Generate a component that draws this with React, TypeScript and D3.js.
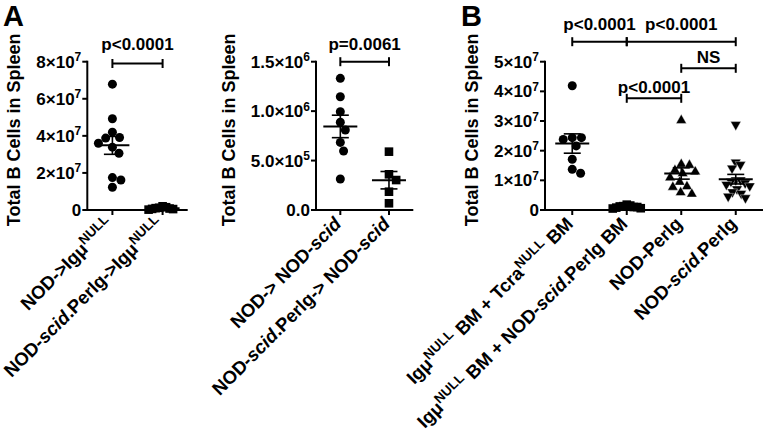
import React from "react";
import * as d3 from "d3";

const FONT = "Arial, 'Liberation Sans', Helvetica, sans-serif";

// ---------- Panel A (left) ----------
const a1Categories = ["NOD->Igμ^NULL", "NOD-_scid_.Perlg->Igμ^NULL"];
const a1Ticks = [0, 2e7, 4e7, 6e7, 8e7];
const a1TickLabels = ["0", "2×10^7", "4×10^7", "6×10^7", "8×10^7"];
const a1NodValues = [6.79e7, 4.92e7, 4.2e7, 3.88e7, 3.91e7, 3.6e7, 3.39e7, 3.06e7, 1.75e7, 1.62e7, 1.23e7];
const a1PerlgValues = [0.02e7, 0.05e7, 0.08e7, 0.1e7, 0.12e7, 0.15e7, 0.2e7, 0.06e7];
const a1Brackets = [{ from: 0, to: 1, label: "p<0.0001" }];

// ---------- Panel A (right) ----------
const a2Categories = ["NOD-> NOD-_scid_", "NOD-_scid_.Perlg-> NOD-_scid_"];
const a2Ticks = [0, 5e5, 1e6, 1.5e6];
const a2TickLabels = ["0.0", "5.0×10^5", "1.0×10^6", "1.5×10^6"];
const a2NodValues = [1.332e6, 1.146e6, 0.994e6, 0.887e6, 0.809e6, 0.684e6, 0.597e6, 0.313e6];
const a2PerlgValues = [0.59e6, 0.361e6, 0.303e6, 0.185e6, 0.068e6];
const a2Brackets = [{ from: 0, to: 1, label: "p=0.0061" }];

// ---------- Panel B ----------
const bCategories = [
  "Igμ^NULL BM + Tcra^NULL BM",
  "Igμ^NULL BM + NOD-_scid_.Perlg BM",
  "NOD-Perlg",
  "NOD-_scid_.Perlg",
];
const bTicks = [0, 1e7, 2e7, 3e7, 4e7, 5e7];
const bTickLabels = ["0", "1×10^7", "2×10^7", "3×10^7", "4×10^7", "5×10^7"];
const bTcraValues = [4.19e7, 2.44e7, 2.38e7, 2.44e7, 2.16e7, 1.71e7, 1.37e7, 1.24e7];
const bScidPerlgBmValues = [0.05e7, 0.08e7, 0.1e7, 0.12e7, 0.15e7, 0.18e7, 0.1e7, 0.06e7, 0.13e7];
const bNodPerlgValues = [3.03e7, 1.55e7, 1.52e7, 1.35e7, 1.3e7, 1.24e7, 1.1e7, 0.95e7, 0.8e7, 0.78e7, 0.55e7, 0.6e7];
const bNodScidPerlgValues = [2.87e7, 1.6e7, 1.52e7, 1.4e7, 1.0e7, 1.0e7, 0.95e7, 0.9e7, 0.85e7, 0.8e7, 0.7e7, 0.6e7, 0.55e7, 0.45e7, 0.4e7];
const bBrackets = [
  { from: 0, to: 1, label: "p<0.0001" },
  { from: 1, to: 3, label: "p<0.0001" },
  { from: 2, to: 3, label: "NS" },
  { from: 1, to: 2, label: "p<0.0001" },
];

const yTitle = "Total B Cells in Spleen";

type Seg = { t: string; sup?: boolean; it?: boolean };

function parseRich(s: string): Seg[] {
  const parts = s.split(/(\^[A-Za-z0-9]+|_[^_]+_)/).filter((p) => p.length > 0);
  return parts.map((p) => {
    if (p.startsWith("^")) return { t: p.slice(1), sup: true };
    if (p.startsWith("_") && p.endsWith("_")) return { t: p.slice(1, -1), it: true };
    return { t: p };
  });
}

function RichText({ segs, supSize, supShift }: { segs: Seg[]; supSize: number; supShift: number }) {
  const out: React.ReactNode[] = [];
  let raised = false;
  segs.forEach((s, i) => {
    let dy = 0;
    if (s.sup && !raised) { dy = -supShift; raised = true; }
    else if (!s.sup && raised) { dy = supShift; raised = false; }
    out.push(
      <tspan key={i} dy={dy || undefined} fontSize={s.sup ? supSize : undefined} fontStyle={s.it ? "italic" : undefined}>
        {s.t}
      </tspan>
    );
  });
  return <>{out}</>;
}

function swarm(values: number[], y: (v: number) => number, D: number, maxHalf: number): number[] {
  const order = values.map((v, i) => i).sort((a, b) => values[b] - values[a]);
  const placed: { x: number; y: number }[] = [];
  const xs = new Array(values.length).fill(0);
  for (const i of order) {
    const yi = y(values[i]);
    const cands = [0];
    for (const p of placed) {
      const dy = Math.abs(p.y - yi);
      if (dy < D) {
        const d = Math.sqrt(D * D - dy * dy);
        cands.push(p.x + d, p.x - d);
      }
    }
    cands.sort((a, b) => Math.abs(a) - Math.abs(b) || b - a);
    let chosen = 0;
    for (const c of cands) {
      const ok = placed.every((p) => (p.x - c) ** 2 + (p.y - yi) ** 2 >= D * D - 0.01);
      if (ok) { chosen = c; break; }
    }
    xs[i] = chosen;
    placed.push({ x: chosen, y: yi });
  }
  const m = d3.max(xs, (v: number) => Math.abs(v)) || 0;
  if (m > maxHalf) return xs.map((v) => (v * maxHalf) / m);
  return xs;
}

type Shape = "circle" | "square" | "tri" | "itri";

function Marker({ shape, x, y }: { shape: Shape; x: number; y: number }) {
  if (shape === "circle") return <circle cx={x} cy={y} r={4.5} fill="#000" />;
  if (shape === "square") return <rect x={x - 4.3} y={y - 4.3} width={8.6} height={8.6} fill="#000" />;
  if (shape === "tri")
    return <path d={`M${x},${y - 5.8}L${x + 5.2},${y + 3.3}L${x - 5.2},${y + 3.3}Z`} fill="#000" stroke="#fff" strokeWidth={0.4} />;
  return <path d={`M${x},${y + 5.8}L${x + 5.2},${y - 3.3}L${x - 5.2},${y - 3.3}Z`} fill="#000" stroke="#fff" strokeWidth={0.4} />;
}

type Bracket = { from: number; to: number; label: string };

type PanelProps = {
  x0: number;
  x1: number;
  yMax: number;
  ticks: number[];
  tickLabels: string[];
  categories: string[];
  groups: number[][];
  shapes: Shape[];
  brackets: Bracket[];
  bracketY: number[];
  bracketGap: number[];
  titleX: number;
  letter?: string;
  letterX?: number;
};

const Y0 = 210;
const YTOP = 61.7;

function Panel(p: PanelProps) {
  const y = d3.scaleLinear().domain([0, p.yMax]).range([Y0, YTOP]);
  const x = d3.scalePoint<number>().domain(p.categories.map((_, i) => i)).range([p.x0, p.x1]).padding(0.5);
  return (
    <g>
      {p.letter && (
        <text x={p.letterX} y={25.5} fontSize={29} fontWeight="bold" fontFamily={FONT}>{p.letter}</text>
      )}
      <text
        transform={`translate(${p.titleX},${(Y0 + YTOP) / 2 - 6}) rotate(-90)`}
        textAnchor="middle"
        fontSize={18}
        fontWeight="bold"
        fontFamily={FONT}
      >
        {yTitle}
      </text>
      {/* axes */}
      <line x1={p.x0} x2={p.x0} y1={YTOP - 1} y2={Y0 + 1} stroke="#000" strokeWidth={2} />
      <line x1={p.x0 - 1} x2={p.x1} y1={Y0} y2={Y0} stroke="#000" strokeWidth={2} />
      {p.ticks.map((t, i) => (
        <g key={i}>
          <line x1={p.x0 - 5} x2={p.x0} y1={y(t)} y2={y(t)} stroke="#000" strokeWidth={2} />
          <text x={p.x0 - 6} y={y(t) + 6} textAnchor="end" fontSize={17} fontWeight="bold" fontFamily={FONT}>
            <RichText segs={parseRich(p.tickLabels[i])} supSize={12} supShift={6.5} />
          </text>
        </g>
      ))}
      {p.categories.map((c, i) => (
        <g key={i}>
          <line x1={x(i)!} x2={x(i)!} y1={Y0} y2={Y0 + 5} stroke="#000" strokeWidth={2} />
          <text
            transform={`translate(${x(i)! + 2},${Y0 + 15}) rotate(-45)`}
            textAnchor="end"
            fontSize={18.5}
            fontWeight="bold"
            fontFamily={FONT}
          >
            <RichText segs={parseRich(c)} supSize={13.5} supShift={7} />
          </text>
        </g>
      ))}
      {/* data */}
      {p.groups.map((vals, gi) => {
        const cx = x(gi)!;
        const offs = swarm(vals, y, 9.2, 14);
        const mean = d3.mean(vals)!;
        const sem = d3.deviation(vals)! / Math.sqrt(vals.length);
        return (
          <g key={gi}>
            {vals.map((v, i) => (
              <Marker key={i} shape={p.shapes[gi]} x={cx + offs[i]} y={y(v)} />
            ))}
            <line x1={cx - 17} x2={cx + 17} y1={y(mean)} y2={y(mean)} stroke="#000" strokeWidth={2} />
            <line x1={cx} x2={cx} y1={y(mean + sem)} y2={y(mean - sem)} stroke="#000" strokeWidth={1.6} />
            <line x1={cx - 8.5} x2={cx + 8.5} y1={y(mean + sem)} y2={y(mean + sem)} stroke="#000" strokeWidth={1.6} />
            <line x1={cx - 8.5} x2={cx + 8.5} y1={y(mean - sem)} y2={y(mean - sem)} stroke="#000" strokeWidth={1.6} />
          </g>
        );
      })}
      {/* brackets */}
      {p.brackets.map((b, i) => {
        const xa = x(b.from)!;
        const xb = x(b.to)!;
        const by = p.bracketY[i];
        return (
          <g key={i}>
            <line x1={xa} x2={xb} y1={by} y2={by} stroke="#000" strokeWidth={2} />
            <line x1={xa} x2={xa} y1={by - 4.5} y2={by + 4.5} stroke="#000" strokeWidth={2} />
            <line x1={xb} x2={xb} y1={by - 4.5} y2={by + 4.5} stroke="#000" strokeWidth={2} />
            <text
              x={(xa + xb) / 2}
              y={by - p.bracketGap[i]}
              textAnchor="middle"
              fontSize={17}
              fontWeight="bold"
              fontFamily={FONT}
            >
              {b.label}
            </text>
          </g>
        );
      })}
    </g>
  );
}

export default function App() {
  return (
    <svg width={768} height={438} style={{ position: "absolute", left: 0, top: 0, background: "#fff" }}>
      <rect x={0} y={0} width={768} height={438} fill="#fff" />
      <Panel
        x0={87.3}
        x1={187.7}
        yMax={8e7}
        ticks={a1Ticks}
        tickLabels={a1TickLabels}
        categories={a1Categories}
        groups={[a1NodValues, a1PerlgValues]}
        shapes={["circle", "square"]}
        brackets={a1Brackets}
        bracketY={[63.5]}
        bracketGap={[14]}
        titleX={20}
        letter="A"
        letterX={3}
      />
      <Panel
        x0={316}
        x1={413.3}
        yMax={1.5e6}
        ticks={a2Ticks}
        tickLabels={a2TickLabels}
        categories={a2Categories}
        groups={[a2NodValues, a2PerlgValues]}
        shapes={["circle", "square"]}
        brackets={a2Brackets}
        bracketY={[61.7]}
        bracketGap={[12]}
        titleX={235}
      />
      <Panel
        x0={545}
        x1={763}
        yMax={5e7}
        ticks={bTicks}
        tickLabels={bTickLabels}
        categories={bCategories}
        groups={[bTcraValues, bScidPerlgBmValues, bNodPerlgValues, bNodScidPerlgValues]}
        shapes={["circle", "square", "tri", "itri"]}
        brackets={bBrackets}
        bracketY={[41.7, 41.7, 68.3, 98.3]}
        bracketGap={[12, 12, 5.5, 5.5]}
        titleX={478}
        letter="B"
        letterX={461}
      />
    </svg>
  );
}
